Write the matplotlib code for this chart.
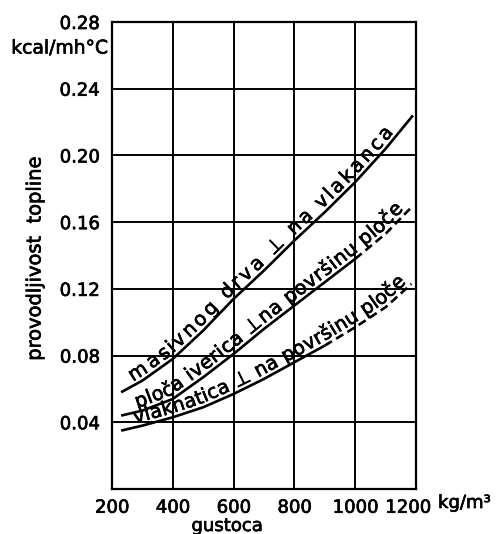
import matplotlib
matplotlib.use("Agg")
import matplotlib.pyplot as plt
from matplotlib import rcParams
from matplotlib.font_manager import FontProperties
from matplotlib.transforms import ScaledTranslation
import matplotlib.patheffects as pe
import numpy as np

rcParams['font.family'] = 'DejaVu Sans'
rcParams['font.size'] = 13

# density [kg/m3] and thermal conductivity [kcal/mh°C]
dens_masiv = [230, 300, 400, 500, 600, 700, 800, 900, 1000, 1100, 1190]
cond_masiv = [0.058, 0.065, 0.078, 0.095, 0.114, 0.131, 0.149, 0.166, 0.184, 0.204, 0.224]

dens_iverica = [230, 300, 400, 500, 600, 700, 800, 900, 1000, 1100, 1180]
cond_iverica = [0.044, 0.047, 0.054, 0.067, 0.081, 0.096, 0.110, 0.124, 0.138, 0.153, 0.168]
dash_iverica = 1000  # dashed beyond this density

dens_vlakn = [230, 300, 400, 500, 600, 700, 800, 900, 1000, 1100, 1185]
cond_vlakn = [0.035, 0.038, 0.043, 0.049, 0.057, 0.066, 0.076, 0.086, 0.097, 0.109, 0.123]
dash_vlakn = 900

lbl_masiv = "masivnog drva ⊥ na vlakanca"
lbl_iverica = "ploča iverica ⊥na površinu ploče"
lbl_vlakn = "vlaknatica ⊥ na površinu ploče"

x_ticks = [200, 400, 600, 800, 1000, 1200]
y_ticks = [0.04, 0.08, 0.12, 0.16, 0.20, 0.24, 0.28]
y_ticklabels = ["0.04", "0.08", "0.12", "0.16", "0.20", "0.24", "0.28"]

heavy = [pe.withStroke(linewidth=0.5, foreground='black')]

W, H = 496, 534
fig = plt.figure(figsize=(W / 100, H / 100), dpi=100)
ax = fig.add_axes([112 / W, 1 - 489 / H, (416 - 112) / W, (489 - 22) / H])
ax.set_xlim(200, 1200)
ax.set_ylim(0, 0.28)

ax.set_xticks(x_ticks)
ax.set_yticks(y_ticks)
ax.set_yticklabels(y_ticklabels)
ax.tick_params(length=0, labelsize=13)
ax.tick_params(axis='x', pad=7)
ax.tick_params(axis='y', pad=9)
ax.grid(True, color='black', lw=1.4)
for sp in ax.spines.values():
    sp.set_linewidth(1.6)
for lab in ax.get_xticklabels() + ax.get_yticklabels():
    lab.set_path_effects(heavy)
# last x label sits a bit left of its grid line in the original
last = ax.get_xticklabels()[-1]
last.set_transform(last.get_transform() + ScaledTranslation(-0.08, 0, fig.dpi_scale_trans))


def plot_curve(x, y, dash_from=None):
    x = np.asarray(x, float)
    y = np.asarray(y, float)
    if dash_from is None:
        ax.plot(x, y, color='black', lw=1.9, solid_capstyle='butt')
        return
    k = int(np.searchsorted(x, dash_from))
    ax.plot(x[:k + 1], y[:k + 1], color='black', lw=1.9, solid_capstyle='butt')
    ax.plot(x[k:], y[k:], color='black', lw=1.9, ls=(0, (3.2, 1.8)))


plot_curve(dens_masiv, cond_masiv)
plot_curve(dens_iverica, cond_iverica, dash_iverica)
plot_curve(dens_vlakn, cond_vlakn, dash_vlakn)

# text following a curve, letter by letter
renderer = fig.canvas.get_renderer()
fp = FontProperties(family='DejaVu Sans', size=14)


def text_w(t):
    return renderer.get_text_width_height_descent(t, fp, ismath=False)[0]


def curve_text(x, y, text, x0, x1, offset=4.0):
    x = np.asarray(x, float)
    pts = ax.transData.transform(np.column_stack([x, y]))
    seg = np.diff(pts, axis=0)
    s = np.concatenate([[0], np.cumsum(np.hypot(seg[:, 0], seg[:, 1]))])
    s0, s1 = np.interp(x0, x, s), np.interp(x1, x, s)

    def at(sv):
        return np.array([np.interp(sv, s, pts[:, 0]), np.interp(sv, s, pts[:, 1])])

    # left edge of each glyph from the width of the text before it
    wx = text_w('x')
    edges = np.array([text_w(text[:k] + 'x') - wx if k else 0.0
                      for k in range(len(text) + 1)])
    edges[-1] = text_w(text)
    scale = (s1 - s0) / edges[-1]
    centers = s0 + scale * (edges[:-1] + edges[1:]) / 2
    for ch, sc in zip(text, centers):
        if ch == ' ':
            continue
        p = at(sc)
        d = at(sc + 12) - at(sc - 12)
        ang = np.arctan2(d[1], d[0])
        p = p + offset * np.array([-np.sin(ang), np.cos(ang)])
        xd, yd = ax.transData.inverted().transform(p)
        ax.text(xd, yd, ch, fontproperties=fp, ha='center', va='baseline',
                rotation=np.degrees(ang), rotation_mode='anchor', path_effects=heavy)


curve_text(dens_masiv, cond_masiv, lbl_masiv, 268, 1140)
curve_text(dens_iverica, cond_iverica, lbl_iverica, 285, 1170)
curve_text(dens_vlakn, cond_vlakn, lbl_vlakn, 278, 1178)

fig.text(35 / W, 1 - 258 / H, "provodljivost  topline", rotation=90,
         ha='center', va='center', fontsize=14, path_effects=heavy)
fig.text(108 / W, 1 - 48 / H, "kcal/mh°C", ha='right', va='center', fontsize=13.5,
         path_effects=heavy)
fig.text(438 / W, 1 - 503 / H, "kg/m³", ha='left', va='center', fontsize=13,
         path_effects=heavy)
fig.text(227 / W, 1 - 526 / H, "gustoca", ha='center', va='center', fontsize=13,
         path_effects=heavy)

fig.savefig("out.png", dpi=100)
